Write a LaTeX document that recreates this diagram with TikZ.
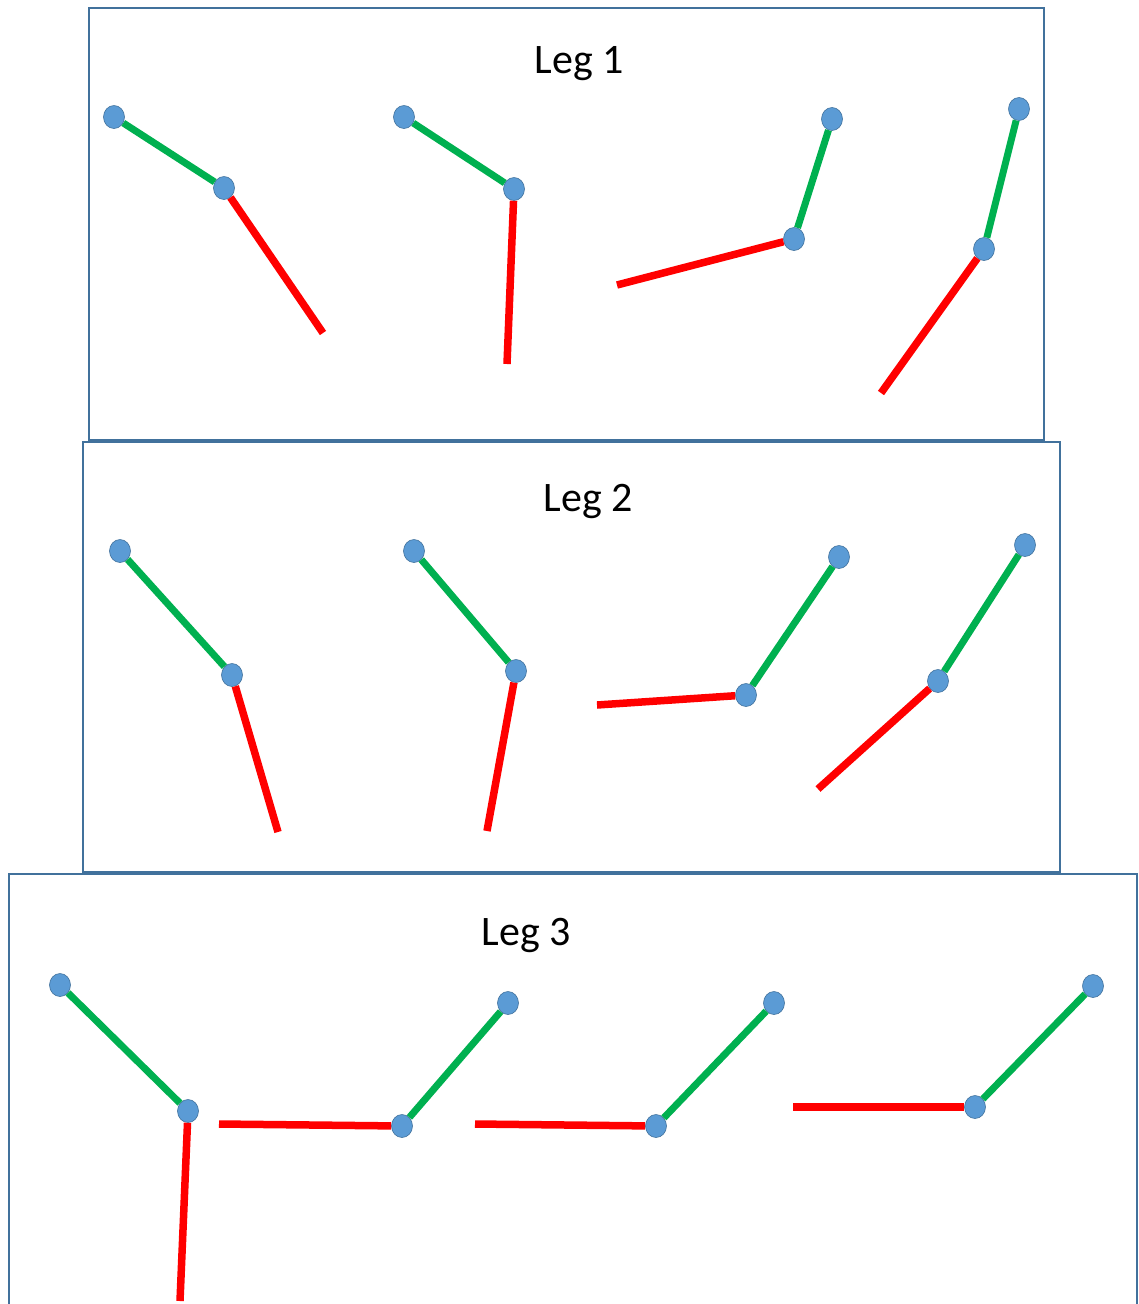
\documentclass[tikz,border=0pt]{standalone}
\usepackage{fontspec}
\setmainfont{Carlito}
\usepackage{tikz}
\usepackage{xcolor}
\usetikzlibrary{shapes.geometric}

\definecolor{boxblue}{RGB}{65,113,156}
\definecolor{jointblue}{RGB}{91,155,213}
\definecolor{thighgreen}{RGB}{0,176,80}
\definecolor{shinred}{RGB}{255,0,0}

\begin{document}
\begin{tikzpicture}[x=1pt, y=-1pt,
    panel/.style={draw=boxblue, line width=1.5pt},
    joint/.style={ellipse, fill=jointblue, draw=boxblue, line width=0.6pt, minimum width=21pt, minimum height=23pt, inner sep=0pt},
    thigh/.style={draw=thighgreen, line width=7pt},
    shin/.style={draw=shinred, line width=7.5pt},
    title/.style={anchor=base, font=\fontsize{42}{50}\selectfont}]
    \useasboundingbox (0,0) rectangle (1139,1304);
    % Boxes
    \draw[panel] (89,8) rectangle (1044,440);
    \draw[panel] (83,442) rectangle (1060,872);
    \draw[panel] (9,1310) -- (9,874) -- (1137,874) -- (1137,1310);
    % Titles
    \node[title] (legone) at (579,73) {Leg 1};
    \node[title] (legtwo) at (588,511) {Leg 2};
    \node[title] (legthree) at (526,945) {Leg 3};

    % Leg 1
    \node[joint] (h11) at (114,117) {}; \node[joint] (k11) at (224,188) {}; \coordinate (f11) at (323,333);
    \draw[thigh] (h11) -- (k11); \draw[shin] (k11) -- (f11);
    \node[joint] (h12) at (404,117) {}; \node[joint] (k12) at (514,189) {}; \coordinate (f12) at (507,364);
    \draw[thigh] (h12) -- (k12); \draw[shin] (k12) -- (f12);
    \node[joint] (h13) at (832,119) {}; \node[joint] (k13) at (794,239) {}; \coordinate (f13) at (617,285);
    \draw[thigh] (h13) -- (k13); \draw[shin] (k13) -- (f13);
    \node[joint] (h14) at (1019,109) {}; \node[joint] (k14) at (984,249) {}; \coordinate (f14) at (881,393);
    \draw[thigh] (h14) -- (k14); \draw[shin] (k14) -- (f14);

    % Leg 2
    \node[joint] (h21) at (120,551) {}; \node[joint] (k21) at (232,675) {}; \coordinate (f21) at (278,832);
    \draw[thigh] (h21) -- (k21); \draw[shin] (k21) -- (f21);
    \node[joint] (h22) at (414,551) {}; \node[joint] (k22) at (516,671) {}; \coordinate (f22) at (487,831);
    \draw[thigh] (h22) -- (k22); \draw[shin] (k22) -- (f22);
    \node[joint] (h23) at (839,557) {}; \node[joint] (k23) at (746,695) {}; \coordinate (f23) at (597,705);
    \draw[thigh] (h23) -- (k23); \draw[shin] (k23) -- (f23);
    \node[joint] (h24) at (1025,545) {}; \node[joint] (k24) at (938,681) {}; \coordinate (f24) at (818,789);
    \draw[thigh] (h24) -- (k24); \draw[shin] (k24) -- (f24);

    % Leg 3
    \node[joint] (h31) at (60,985) {}; \node[joint] (k31) at (188,1111) {}; \coordinate (f31) at (180,1301);
    \draw[thigh] (h31) -- (k31); \draw[shin] (k31) -- (f31);
    \node[joint] (h32) at (508,1003) {}; \node[joint] (k32) at (402,1126) {}; \coordinate (f32) at (219,1124);
    \draw[thigh] (h32) -- (k32); \draw[shin] (k32) -- (f32);
    \node[joint] (h33) at (774,1003) {}; \node[joint] (k33) at (656,1126) {}; \coordinate (f33) at (475,1124);
    \draw[thigh] (h33) -- (k33); \draw[shin] (k33) -- (f33);
    \node[joint] (h34) at (1093,986) {}; \node[joint] (k34) at (975,1107) {}; \coordinate (f34) at (793,1107);
    \draw[thigh] (h34) -- (k34); \draw[shin] (k34) -- (f34);
\end{tikzpicture}
\end{document}
